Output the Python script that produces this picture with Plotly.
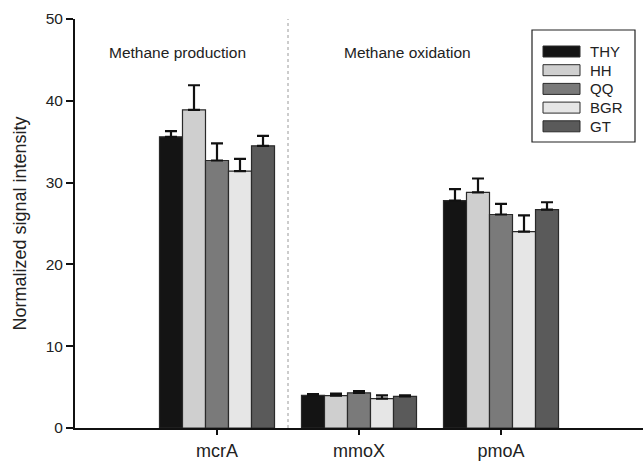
import plotly.graph_objects as go

genes = ["mcrA", "mmoX", "pmoA"]
sites = ["THY", "HH", "QQ", "BGR", "GT"]
colors = ["#141414", "#cfcfcf", "#7a7a7a", "#e6e6e6", "#5a5a5a"]

THY = [35.6, 4.0, 27.8]
HH = [38.9, 3.95, 28.8]
QQ = [32.7, 4.3, 26.1]
BGR = [31.4, 3.6, 24.0]
GT = [34.5, 3.86, 26.7]

THY_err = [0.7, 0.15, 1.4]
HH_err = [3.0, 0.25, 1.7]
QQ_err = [2.1, 0.2, 1.3]
BGR_err = [1.5, 0.4, 2.0]
GT_err = [1.2, 0.14, 0.9]

values = [THY, HH, QQ, BGR, GT]
errors = [THY_err, HH_err, QQ_err, BGR_err, GT_err]

yticks = [0, 10, 20, 30, 40, 50]

FONT = "Liberation Sans, Arial, Helvetica, sans-serif"

fig = go.Figure()
for name, col, v, e in zip(sites, colors, values, errors):
    fig.add_trace(go.Bar(
        x=list(range(len(genes))), y=v, name=name,
        marker=dict(color=col, line=dict(color="#2a2a2a", width=1.2)),
        error_y=dict(type="data", array=e, arrayminus=[0] * len(e), symmetric=False,
                     color="#111111", thickness=2.2, width=6),
        showlegend=False,
    ))

# divider between groups
fig.add_shape(type="line", x0=0.5, x1=0.5, y0=0, y1=50, xref="x", yref="y",
              line=dict(color="#9a9a9a", width=1, dash="dot"), layer="below")

# group labels
fig.add_annotation(x=-0.275, y=45.9, xref="x", yref="y", text="Methane production",
                   showarrow=False, font=dict(family=FONT, size=15.5, color="#222"))
fig.add_annotation(x=1.345, y=45.9, xref="x", yref="y", text="Methane oxidation",
                   showarrow=False, font=dict(family=FONT, size=15.5, color="#222"))

# custom legend (box with wide swatches)
lx0, lx1, ly0, ly1 = 532, 635, 30, 142
W, H = 643, 465
ml, mr, mt, mb = 75, 0, 19, 37
pw, ph = W - ml - mr, H - mt - mb
def px2paper_x(px):
    return (px - ml) / pw
def px2paper_y(py):
    return 1 - (py - mt) / ph

fig.add_shape(type="rect", xref="paper", yref="paper",
              x0=px2paper_x(lx0), x1=px2paper_x(lx1), y0=px2paper_y(ly1), y1=px2paper_y(ly0),
              line=dict(color="#222", width=1.2), fillcolor="white")
for i, (name, col) in enumerate(zip(sites, colors)):
    cy = 51.5 + i * 18.7
    fig.add_shape(type="rect", xref="paper", yref="paper",
                  x0=px2paper_x(543), x1=px2paper_x(580),
                  y0=px2paper_y(cy + 5.5), y1=px2paper_y(cy - 5.5),
                  line=dict(color="#2a2a2a", width=1), fillcolor=col)
    fig.add_annotation(x=px2paper_x(588), y=px2paper_y(cy), xref="paper", yref="paper",
                       text=name, showarrow=False, xanchor="left", yanchor="middle",
                       font=dict(family=FONT, size=15, color="#222"))

fig.update_layout(
    width=W, height=H,
    margin=dict(l=ml, r=mr, t=mt, b=mb),
    paper_bgcolor="white", plot_bgcolor="white",
    barmode="group", bargap=0.19, bargroupgap=0,
    font=dict(family=FONT, color="#222"),
)
fig.update_xaxes(
    range=[-1, 3], tickmode="array", tickvals=list(range(len(genes))), ticktext=genes,
    showline=True, linecolor="#111", linewidth=2, ticks="outside", ticklen=5,
    tickwidth=2, tickcolor="#111", showgrid=False, zeroline=False,
    tickfont=dict(family=FONT, size=18, color="#222"),
)
fig.update_yaxes(
    range=[0, 50], tickvals=yticks, showline=True, linecolor="#111", linewidth=2,
    ticks="outside", ticklen=7, tickwidth=1.5, tickcolor="#111", showgrid=False,
    zeroline=False, tickfont=dict(family=FONT, size=15.5, color="#222"),
    title=dict(text="Normalized signal intensity", font=dict(family=FONT, size=18, color="#222"),
               standoff=14),
)

fig.write_html("out.html", config={"displayModeBar": False},
               post_script="document.body.style.margin='0';document.body.style.overflow='hidden';")
